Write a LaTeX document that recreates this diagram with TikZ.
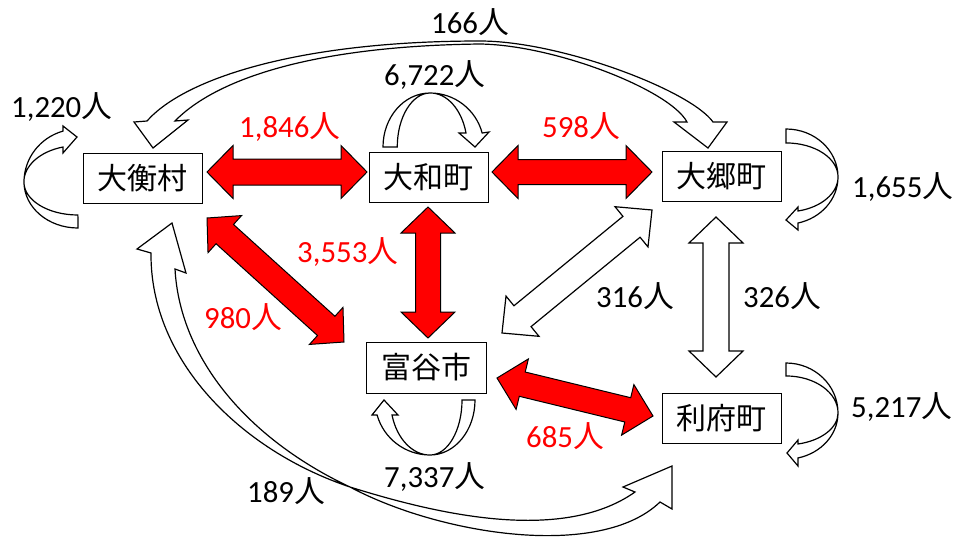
\documentclass[tikz,border=0pt]{standalone}
\usepackage{fontspec}
\setmainfont{Carlito}
\newfontfamily\cjk{Noto Sans CJK JP}
\usetikzlibrary{calc}
\newcommand{\hito}{{\cjk 人}}
% double block arrow: style, tip A, tip B, head length, head half width, shaft half width
\newcommand{\dblarrow}[6]{%
  \coordinate (da1) at ($(#2)!#4!(#3)$);
  \coordinate (da2) at ($(#3)!#4!(#2)$);
  \draw[#1] (#2) -- ($(da1)!#5!90:(#3)$) -- ($(da1)!#6!90:(#3)$)
    -- ($(da2)!#6!-90:(#2)$) -- ($(da2)!#5!-90:(#2)$) -- (#3)
    -- ($(da2)!#5!90:(#2)$) -- ($(da2)!#6!90:(#2)$)
    -- ($(da1)!#6!-90:(#3)$) -- ($(da1)!#5!-90:(#3)$) -- cycle;}
\tikzset{
  box/.style={draw=black, line width=1pt, fill=white, minimum width=119pt,
    minimum height=50pt, inner sep=0pt, font=\cjk\fontsize{30}{33}\selectfont},
  redar/.style={draw=black, fill=red, line width=1pt, line join=miter},
  whitear/.style={draw=black, fill=white, line width=1.2pt, line join=miter},
  lbl/.style={anchor=base west, inner sep=0pt, font=\fontsize{30.8}{34}\selectfont},
  redlbl/.style={lbl, text=red},
}
\begin{document}
\begin{tikzpicture}[x=1pt,y=-1pt]
\useasboundingbox (0,0) rectangle (955,539);

% boxes
\node[box] (ohira) at (142.5,178) {大衡村};
\node[box] (taiwa) at (428.5,177) {大和町};
\node[box] (osato) at (721.5,176) {大郷町};
\node[box, minimum width=120pt, minimum height=51pt] (tomiya) at (426,367.5) {富谷市};
\node[box] (rifu) at (721.5,418) {利府町};

% arrow tips
\coordinate (a1) at (207,172);   \coordinate (b1) at (367,172);
\coordinate (a2) at (492,172);   \coordinate (b2) at (652,172);
\coordinate (a3) at (428,207);   \coordinate (b3) at (428,338);
\coordinate (a4) at (207,218);   \coordinate (b4) at (344,342);
\coordinate (a5) at (497,378);   \coordinate (b5) at (653,416);
\coordinate (a6) at (502,333);   \coordinate (b6) at (652,210);
\coordinate (a7) at (716,217);   \coordinate (b7) at (716,377);

% red arrows
\dblarrow{redar}{a1}{b1}{26pt}{26.5pt}{13pt}
\dblarrow{redar}{a2}{b2}{26pt}{26.5pt}{12.5pt}
\dblarrow{redar}{a3}{b3}{26pt}{27pt}{12.5pt}
\dblarrow{redar}{a4}{b4}{24pt}{25pt}{13pt}
\dblarrow{redar}{a5}{b5}{26pt}{26pt}{12.5pt}

% white straight arrows
\dblarrow{whitear}{a6}{b6}{26.5pt}{26pt}{13.5pt}
\dblarrow{whitear}{a7}{b7}{26pt}{27pt}{13pt}

% 166: top curved double arrow
\coordinate (t166a) at (153,148);
\coordinate (t166b) at (708,148);
\draw[whitear] (134,122) -- (t166a) -- (188,120) -- (175,121)
  .. controls (215,80) and (310,46) .. (480,44)
  .. controls (555,45) and (670,90) .. (687,122) -- (674,122) -- (t166b)
  -- (727,122) -- (713,122)
  .. controls (690,90) and (560,41) .. (480,41)
  .. controls (300,41) and (185,78) .. (147,121) -- cycle;

% 189: bottom curved double arrow
\coordinate (t189a) at (172,223);
\coordinate (t189b) at (672,466);
\draw[whitear] (137,249) -- (t189a) -- (186,273) -- (175,269)
  .. controls (180,360) and (250,440) .. (350,487)
  .. controls (440,535) and (600,560) .. (660,502) -- (672,509) -- (t189b)
  -- (623,487) -- (635,492)
  .. controls (560,545) and (430,512) .. (350,487)
  .. controls (240,450) and (150,360) .. (151,253) -- cycle;

% self loops
% 6,722 (above taiwa)
\coordinate (t6722) at (475,147);
\draw[whitear] (383,147) arc[start angle=180,end angle=270,x radius=47,y radius=54]
  arc[start angle=270,end angle=345,x radius=54,y radius=54]
  -- (489,132) -- (t6722) -- (459,133) -- (466,133)
  arc[start angle=345,end angle=270,x radius=37,y radius=54]
  arc[start angle=270,end angle=180,x radius=33,y radius=54] -- cycle;
% 7,337 (below tomiya)
\coordinate (t7337) at (384,400);
\draw[whitear] (475,400) arc[start angle=0,end angle=90,x radius=45,y radius=55]
  arc[start angle=90,end angle=164.2,x radius=55,y radius=55]
  -- (372,415) -- (t7337) -- (398,415) -- (392,415)
  arc[start angle=164.2,end angle=90,x radius=39.5,y radius=55]
  arc[start angle=90,end angle=0,x radius=32,y radius=55] -- cycle;
% 1,220 (left of ohira)
\coordinate (t1220) at (77,137);
\draw[whitear] (78,228) arc[start angle=90,end angle=180,x radius=54,y radius=46]
  arc[start angle=180,end angle=254,x radius=54,y radius=53]
  -- (63,126) -- (t1220) -- (63,153) -- (63,147)
  arc[start angle=254,end angle=180,x radius=54,y radius=36.4]
  arc[start angle=180,end angle=90,x radius=54,y radius=33] -- cycle;
% 1,655 (right of osato)
\coordinate (t1655) at (786,220);
\draw[whitear] (786,129) arc[start angle=270,end angle=360,x radius=52,y radius=48]
  arc[start angle=0,end angle=76.7,x radius=52,y radius=47.3]
  -- (798,230) -- (t1655) -- (798,207) -- (798,211)
  arc[start angle=76.7,end angle=0,x radius=52,y radius=35]
  arc[start angle=360,end angle=270,x radius=52,y radius=34] -- cycle;
% 5,217 (right of rifu)
\coordinate (t5217) at (787,453);
\draw[whitear] (786,363) arc[start angle=270,end angle=360,x radius=52,y radius=50]
  arc[start angle=0,end angle=76.7,x radius=52,y radius=46.2]
  -- (798,466) -- (t5217) -- (798,440) -- (798,444)
  arc[start angle=76.7,end angle=0,x radius=52,y radius=31.9]
  arc[start angle=360,end angle=270,x radius=52,y radius=37] -- cycle;

% labels
\node[lbl] (l166) at (431,33) {166\hito};
\node[lbl] (l6722) at (384,85) {6,722\hito};
\node[lbl] (l1220) at (11,117) {1,220\hito};
\node[redlbl] (l1846) at (239,137) {1,846\hito};
\node[redlbl] (l598) at (542,137) {598\hito};
\node[lbl] (l1655) at (852,197) {1,655\hito};
\node[redlbl] (l3553) at (297,262) {3,553\hito};
\node[redlbl] (l980) at (204,328) {980\hito};
\node[lbl] (l316) at (596,307) {316\hito};
\node[lbl] (l326) at (743,307) {326\hito};
\node[redlbl] (l685) at (526,447) {685\hito};
\node[lbl] (l5217) at (851,417) {5,217\hito};
\node[lbl] (l7337) at (384,487) {7,337\hito};
\node[lbl] (l189) at (247,502) {189\hito};
\end{tikzpicture}
\end{document}
